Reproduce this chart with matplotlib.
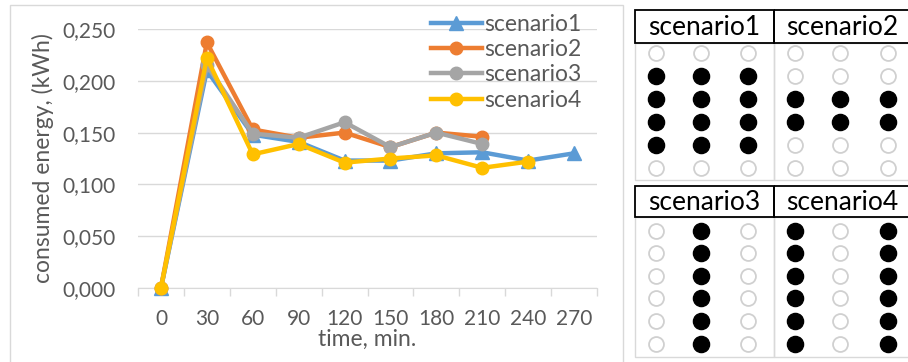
import numpy as np
import matplotlib
matplotlib.use("Agg")
import matplotlib.pyplot as plt
from matplotlib.patches import Rectangle

plt.rcParams['font.family'] = ['Lato', 'DejaVu Sans']

# chart data
times = ['0', '30', '60', '90', '120', '150', '180', '210', '240', '270']
scenario1 = [0.000, 0.210, 0.148, 0.141, 0.123, 0.123, 0.130, 0.131, 0.123, 0.130]
scenario2 = [0.000, 0.237, 0.153, 0.145, 0.150, 0.136, 0.150, 0.146]
scenario3 = [0.000, 0.215, 0.149, 0.145, 0.160, 0.136, 0.150, 0.139]
scenario4 = [0.000, 0.222, 0.129, 0.139, 0.121, 0.125, 0.128, 0.116, 0.122]
y_ticks = [0.0, 0.05, 0.10, 0.15, 0.20, 0.25]
y_labels = ['0,000', '0,050', '0,100', '0,150', '0,200', '0,250']
names = ['scenario1', 'scenario2', 'scenario3', 'scenario4']
colors = ['#5b9bd5', '#ed7d31', '#a5a5a5', '#ffc000']
markers = ['^', 'o', 'o', 'o']

# dot patterns (rows x cols, 1 = filled)
pat1 = [[0, 0, 0], [1, 1, 1], [1, 1, 1], [1, 1, 1], [1, 1, 1], [0, 0, 0]]
pat2 = [[0, 0, 0], [0, 0, 0], [1, 1, 1], [1, 1, 1], [0, 0, 0], [0, 0, 0]]
pat3 = [[0, 1, 0]] * 6
pat4 = [[1, 0, 1]] * 6

W, H = 908, 362
fig = plt.figure(figsize=(W / 100, H / 100), dpi=100)

def px_axes(x0, y0, x1, y1):
    return fig.add_axes([x0 / W, 1 - y1 / H, (x1 - x0) / W, (y1 - y0) / H])

# outer frame of the chart
fig.patches.append(Rectangle((10 / W, -0.05), 613 / W, 1 - 5 / H + 0.05,
                             transform=fig.transFigure, fill=False,
                             edgecolor='#d9d9d9', lw=1))

ax = px_axes(138, 29, 597, 288)
series = [scenario1, scenario2, scenario3, scenario4]
for vals, name, c, m in zip(series, names, colors, markers):
    ax.plot(np.arange(len(vals)), vals, color=c, lw=3.2, marker=m,
            ms=10.5 if m == '^' else 9, label=name, solid_joinstyle='round',
            clip_on=False, zorder=3)

ax.set_xlim(-0.5, len(times) - 0.5)
ax.set_ylim(0, 0.25)
ax.set_xticks(np.arange(len(times)))
ax.set_xticklabels(times)
ax.set_xticks(np.arange(len(times) + 1) - 0.5, minor=True)
ax.set_yticks(y_ticks)
ax.set_yticklabels(y_labels)
ax.tick_params(axis='x', which='major', length=0, pad=15, labelsize=15,
               labelcolor='#595959')
ax.tick_params(axis='x', which='minor', length=6, color='#d9d9d9', width=1)
ax.tick_params(axis='y', length=0, pad=16, labelsize=15, labelcolor='#595959')
ax.grid(axis='y', color='#d9d9d9', lw=1)
ax.set_axisbelow(True)
for s in ['top', 'right', 'left']:
    ax.spines[s].set_visible(False)
ax.spines['bottom'].set_color('#d9d9d9')
ax.set_xlabel('time, min.', fontsize=16.5, color='#595959', labelpad=0)
ax.set_ylabel('consumed energy, (kWh)', fontsize=16.5, color='#595959', labelpad=6)

ax.legend(loc='upper left', bbox_to_anchor=(422 / W, 1 - 5 / H),
          bbox_transform=fig.transFigure, frameon=False, fontsize=16.5,
          handlelength=2.2, handletextpad=0.1, labelspacing=0.18,
          labelcolor='#595959', borderaxespad=0)

# right panel: dot layouts
rp = px_axes(620, 0, 908, 362)
rp.set_xlim(620, 908)
rp.set_ylim(362, 0)
rp.axis('off')

col_x = [[656, 701, 748], [795, 840, 888]]
row_y = [[53, 76, 99, 122, 145, 168], [231, 253, 276, 298, 321, 344]]
panels = [(pat1, 0, 0), (pat2, 0, 1), (pat3, 1, 0), (pat4, 1, 1)]
box_x = [(635, 774), (774, 915)]
box_y = [(10, 43), (186, 217)]
grid_y = [(43, 180), (217, 357)]

for (pat, r, c), name in zip(panels, names):
    xs, ys, fill = [], [], []
    for i, row in enumerate(pat):
        for j, v in enumerate(row):
            xs.append(col_x[c][j])
            ys.append(row_y[r][i])
            fill.append(v)
    xs, ys, fill = np.array(xs), np.array(ys), np.array(fill)
    rp.scatter(xs[fill == 0], ys[fill == 0], s=115, facecolor='white',
               edgecolor='#d0d0d0', lw=1.3, zorder=2)
    rp.scatter(xs[fill == 1], ys[fill == 1], s=135, color='black', zorder=3)
    x0, x1 = box_x[c]
    y0, y1 = box_y[r]
    rp.add_patch(Rectangle((x0, y0), x1 - x0, y1 - y0, fill=False,
                           edgecolor='black', lw=1.3, clip_on=False, zorder=4))
    rp.text((x0 + min(x1, 908)) / 2 + (0 if c == 0 else 1), (y0 + y1) / 2 + 1,
            name, ha='center', va='center', fontsize=19, color='black')
    g0, g1 = grid_y[r]
    rp.add_patch(Rectangle((x0, g0), x1 - x0, g1 - g0, fill=False,
                           edgecolor='#d9d9d9', lw=1, clip_on=False, zorder=1))

fig.savefig('out.png', dpi=100)
